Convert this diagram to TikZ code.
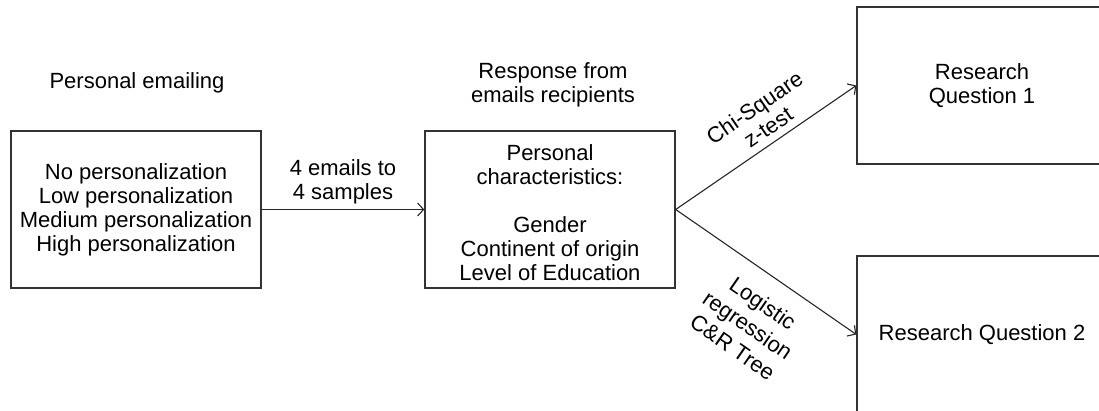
\documentclass[tikz,border=0pt]{standalone}
\usepackage{fontspec}
\setmainfont{Liberation Sans}
\usetikzlibrary{arrows.meta}
\begin{document}
\begin{tikzpicture}[x=1pt,y=1pt,
  txt/.style={font=\fontsize{22}{24}\selectfont, align=center, text=black},
  stagebox/.style={txt, draw=black!80, line width=1.4pt, minimum width=250pt,
    minimum height=157pt, inner sep=0pt},
  flow/.style={draw=black!85, line width=1.1pt,
    -{Straight Barb[length=6pt,width=13pt,line width=1.1pt]}},
  edgelabel/.style={txt, sloped, inner sep=0pt}]
  \clip (0,0) rectangle (1099,410);
  \useasboundingbox (0,0) rectangle (1099,410);

  % stages
  \node[stagebox] (levels) at (136,200.5)
    {No personalization\\Low personalization\\Medium personalization\\High personalization};
  \node[stagebox] (traits) at (550,200.5) {};
  \node[txt] (traitlist) at (550,197.5)
    {Personal\\characteristics:\\[24pt]Gender\\Continent of origin\\Level of Education};
  \node[stagebox] (rq1) at (982,324.5) {Research\\Question 1};
  \node[stagebox] (rq2) at (982,75.5) {Research Question 2};

  % headings
  \node[txt] (h1) at (137,327) {Personal emailing};
  \node[txt] (h2) at (553,325) {Response from\\emails recipients};

  % connectors
  \draw[flow] (levels.east) -- node[txt, above=5pt, inner sep=0pt] {4 emails to\\4 samples} (traits.west);
  \draw[flow] (traits.east) -- node[edgelabel, pos=0.56, above=7pt] {Chi-Square\\z-test} (rq1.west);
  \draw[flow] (traits.east) -- node[edgelabel, pos=0.57, below=19pt,
    font=\fontsize{22}{26.5}\selectfont] {Logistic\\regression\\C\&R Tree} (rq2.west);
\end{tikzpicture}
\end{document}
